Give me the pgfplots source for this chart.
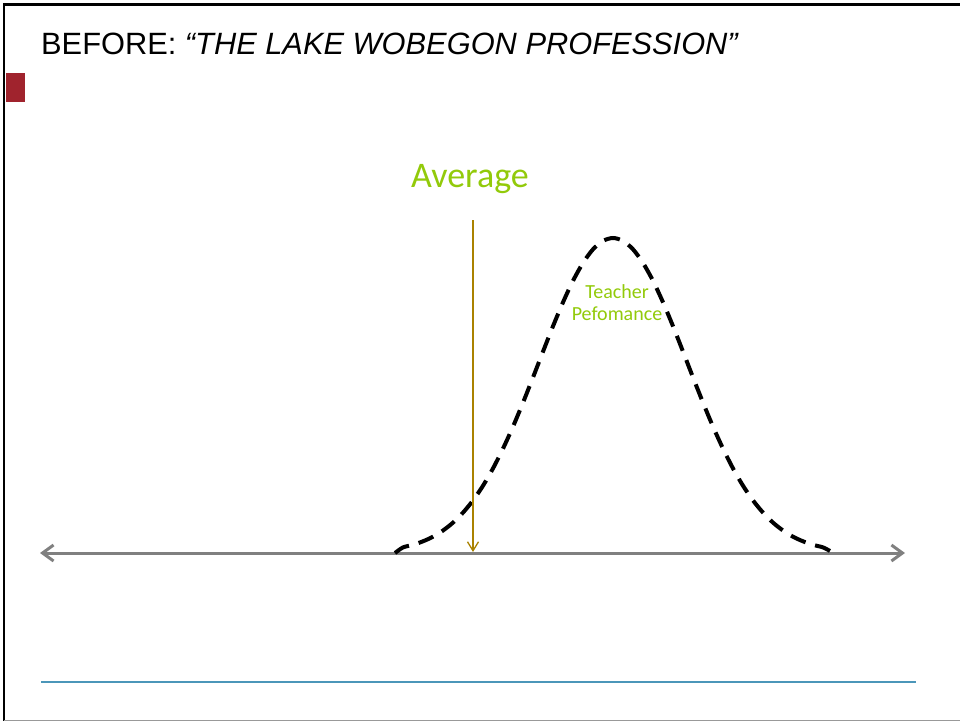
\documentclass[border=0pt]{standalone}
\usepackage{fontspec}
\usepackage{pgfplots}
\pgfplotsset{compat=1.18}
\usetikzlibrary{arrows.meta}
\setmainfont{Liberation Sans}
\newfontfamily\calibri{Carlito}
\definecolor{avggreen}{RGB}{146,202,10}
\definecolor{avgline}{RGB}{170,130,0}
\definecolor{axisgray}{RGB}{128,128,128}
\definecolor{footblue}{RGB}{75,150,185}
\definecolor{slidered}{RGB}{160,35,45}
\begin{document}
\begin{tikzpicture}
\begin{axis}[
  width=960bp, height=721bp, scale only axis,
  xmin=0, xmax=960, ymin=0, ymax=721, y dir=reverse,
  hide axis, clip=false,
]
\coordinate (sw) at (axis cs:0,721);
\coordinate (ne) at (axis cs:960,0);
% slide frame
\addplot[black, line width=2.5bp, forget plot] coordinates {(3,4.5) (960,4.5)};
\addplot[black, line width=2.5bp, forget plot] coordinates {(4.2,3.5) (4.2,721)};
\addplot[gray!80, line width=1.2bp, forget plot] coordinates {(4,720.3) (960,720.3)};
% red square
\addplot[fill=slidered, draw=none, forget plot] coordinates {(5.5,73) (25,73) (25,102) (5.5,102)} -- cycle;
% horizontal axis arrow
\addplot[axisgray, line width=3bp, {Straight Barb[length=11bp,width=16bp]}-{Straight Barb[length=11bp,width=16bp]}, forget plot]
  coordinates {(40,553) (905,553)};
% bell curve
\addplot[black, line width=4bp, dash pattern=on 16bp off 10bp, smooth, forget plot] coordinates {
(395,553) (403,547.4) (413,544.8) (423,541.3) (433,536.7) (443,530.5)
(453,522.6) (463,512.6) (473,500.4) (483,485.7) (493,468.4) (503,448.6)
(513,426.6) (523,402.6) (533,377.4) (543,351.6) (553,326.2) (563,302.3)
(573,280.8) (583,262.9) (593,249.3) (603,240.9) (613,238) (623,240.9)
(633,249.3) (643,262.9) (653,280.8) (663,302.3) (673,326.2) (683,351.6)
(693,377.4) (703,402.6) (713,426.6) (723,448.6) (733,468.4) (743,485.7)
(753,500.4) (763,512.6) (773,522.6) (783,530.5) (793,536.7) (803,541.3)
(813,544.8) (823,547.4) (830,551)
};
% average line
\addplot[avgline, line width=1.3bp, -{Straight Barb[length=9bp,width=11bp]}, forget plot]
  coordinates {(473,220) (473,552)};
% footer line
\addplot[footblue, line width=1.2bp, forget plot] coordinates {(41,682) (916,682)};
% texts
\node[anchor=base west, inner sep=0] at (axis cs:41,55)
  {\fontsize{30.8bp}{36bp}\selectfont BEFORE: \textit{“THE LAKE WOBEGON PROFESSION”}};
\node[anchor=base, inner sep=0, text=avggreen] at (axis cs:470,187)
  {\calibri\fontsize{36bp}{42bp}\selectfont Average};
\node[anchor=base, inner sep=0, text=avggreen] at (axis cs:617,298)
  {\calibri\fontsize{20bp}{23bp}\selectfont Teacher};
\node[anchor=base, inner sep=0, text=avggreen] at (axis cs:617,320)
  {\calibri\fontsize{20bp}{23bp}\selectfont Pefomance};
\end{axis}
\pgfresetboundingbox
\path (sw) rectangle (ne);
\end{tikzpicture}
\end{document}
